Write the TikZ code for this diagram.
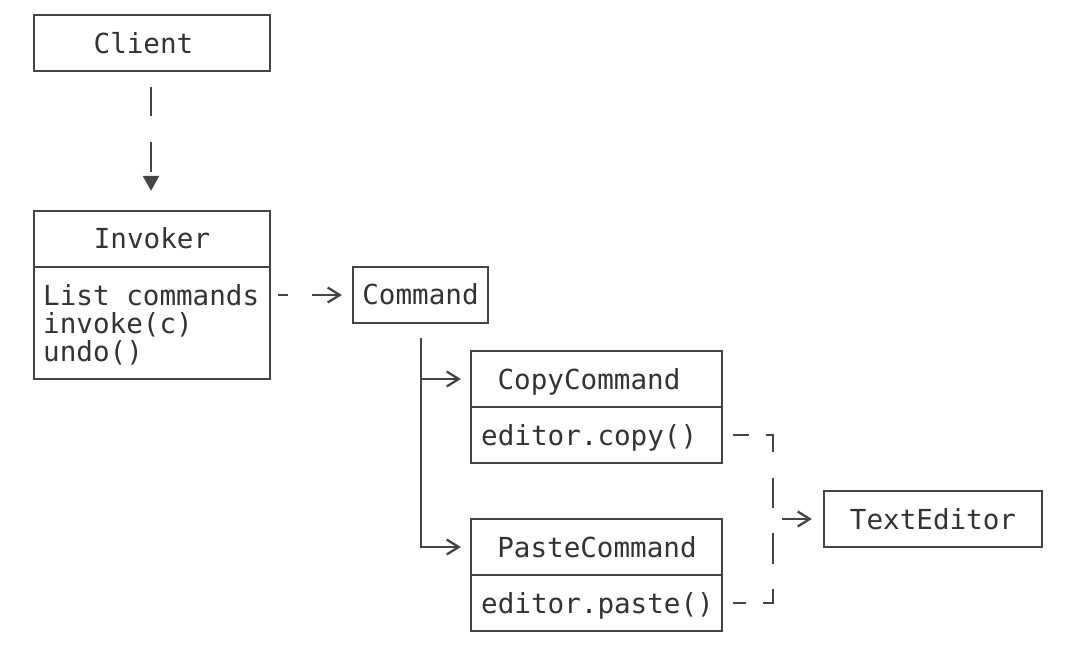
\documentclass[tikz,border=0pt]{standalone}
\usepackage{fontspec}
\newfontfamily\monof{DejaVu Sans Mono}
\usetikzlibrary{arrows.meta}
\definecolor{ink}{HTML}{444444}
\definecolor{txt}{HTML}{333333}
\tikzset{
  box/.style={draw=ink, line width=2.3pt, rectangle, inner sep=0pt},
  lbl/.style={text=txt, inner sep=0pt, font=\monof\fontsize{27.6}{28}\selectfont},
  conn/.style={draw=ink, line width=2.3pt},
  chev/.style={conn, -{Straight Barb[length=12pt,width=15pt]}},
  tri/.style={conn, -{Triangle[length=15pt,width=16pt]}},
}
\begin{document}
\begin{tikzpicture}[x=1pt,y=-1pt]
\useasboundingbox (0,0) rectangle (1086,646);
% boxes
\node[box, minimum width=236pt, minimum height=56pt] (client) at (152,43) {};
\node[box, minimum width=236pt, minimum height=56pt] (invT) at (152,239) {};
\node[box, minimum width=236pt, minimum height=112pt] (invB) at (152,323) {};
\node[box, minimum width=135pt, minimum height=56pt] (cmd) at (420.5,295) {};
\node[box, minimum width=251pt, minimum height=56pt] (cpT) at (596.5,379) {};
\node[box, minimum width=251pt, minimum height=56pt] (cpB) at (596.5,435) {};
\node[box, minimum width=251pt, minimum height=56pt] (psT) at (596.5,547) {};
\node[box, minimum width=251pt, minimum height=56pt] (psB) at (596.5,603) {};
\node[box, minimum width=218pt, minimum height=56pt] (te) at (933,519) {};
% texts
\node[lbl, anchor=base] (tclient) at (143.5,53) {Client};
\node[lbl, anchor=base] (tinv) at (152,248) {Invoker};
\node[lbl, anchor=base west] (tm1) at (43,305) {List commands};
\node[lbl, anchor=base west] (tm2) at (43,333) {invoke(c)};
\node[lbl, anchor=base west] (tm3) at (43,361) {undo()};
\node[lbl, anchor=base] (tcmd) at (420.5,304) {Command};
\node[lbl, anchor=base] (tcp) at (589,389) {CopyCommand};
\node[lbl, anchor=base west] (tcpm) at (481,445) {editor.copy()};
\node[lbl, anchor=base] (tps) at (597,557) {PasteCommand};
\node[lbl, anchor=base west] (tpsm) at (481,613) {editor.paste()};
\node[lbl, anchor=base] (tte) at (933,529) {TextEditor};
% connectors
\draw[tri, dash pattern=on 29pt off 26pt on 30pt off 30pt]
  ([yshift=-15pt,xshift=-1pt]client.south) -- ([yshift=19pt,xshift=-1pt]invT.north);
\draw[chev, dash pattern=on 10pt off 24pt on 60pt, shorten <=7pt, shorten >=10pt]
  (invB.east |- cmd.west) -- (cmd.west);
\coordinate (tx) at ([xshift=0.5pt]cmd.south);
\draw[chev] ([yshift=-14pt]tx) |- ([xshift=-9pt]psT.west);
\draw[chev] (tx |- cpT.west) -- ([xshift=-9pt]cpT.west);
\coordinate (jx) at (773,0);
\draw[conn, shorten <=10pt, shorten >=10pt,
  dash pattern=on 16pt off 17pt on 24pt off 26pt on 30pt off 25pt on 31pt off 25pt on 24pt off 17pt on 16pt off 100pt]
  (cpB.east) -- (cpB.east -| jx) -- (psB.east -| jx) -- (psB.east);
\draw[chev, shorten <=9pt, shorten >=11pt] (te.west -| jx) -- (te.west);
\end{tikzpicture}
\end{document}
